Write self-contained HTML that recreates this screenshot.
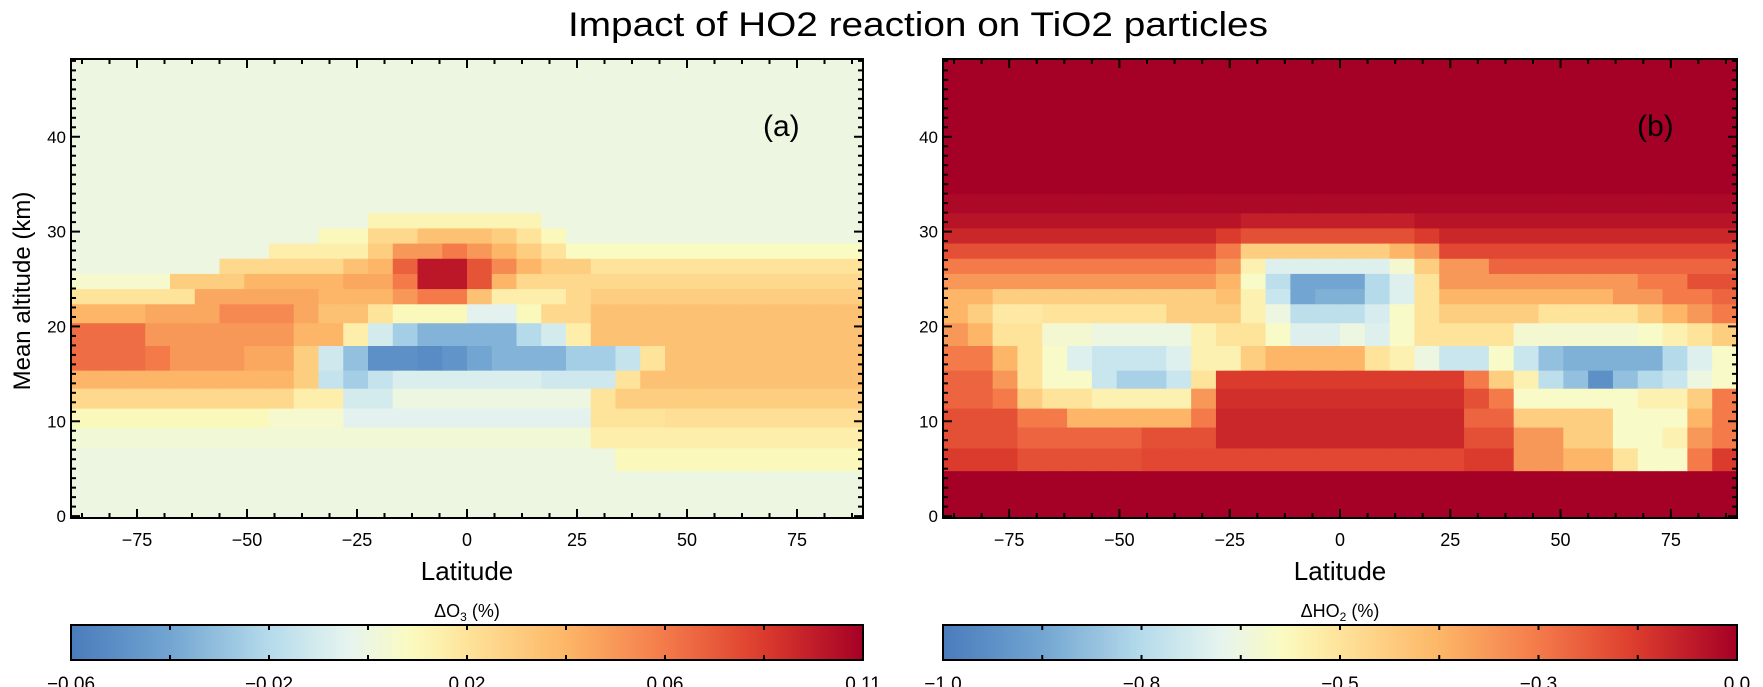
<!DOCTYPE html>
<html><head><meta charset="utf-8">
<style>
html,body{margin:0;padding:0;background:#fff;}
svg{display:block;font-family:"Liberation Sans",sans-serif;}
</style></head>
<body>
<svg id="fig" width="1763" height="687" viewBox="0 0 1763 687" xmlns="http://www.w3.org/2000/svg">
<text x="918" y="36" text-anchor="middle" font-size="34" textLength="700" lengthAdjust="spacingAndGlyphs">Impact of HO2 reaction on TiO2 particles</text>
<text transform="translate(30,291) rotate(-90)" text-anchor="middle" font-size="24">Mean altitude (km)</text>
<g id="panelA"></g>
<g id="panelB"></g>
</svg>
<script>
const altEdges = [0,4.8,7.2,9.4,11.4,13.5,15.4,18,20.4,22.4,24,25.6,27.2,28.8,30.4,32,34,36,38,40,42,44,46,48.2];
const latStart = -90, latStep = 5.625, nLat = 32;
const latTicks = [-75,-50,-25,0,25,50,75];
const altTicks = [0,10,20,30,40];
const cbTicksA = [-0.06,-0.02,0.02,0.06,0.11];
const cbLabelsA = ["-0.06","-0.02","0.02","0.06","0.11"];
const cbTicksB = [-1.0,-0.8,-0.5,-0.3,0.0];
const cbLabelsB = ["-1.0","-0.8","-0.5","-0.3","0.0"];

const dO3 = [
[0,0,0,0,0,0,0,0,0,0,0,0,0,0,0,0,0,0,0,0,0,0,0,0,0,0,0,0,0,0,0,0],
[0,0,0,0,0,0,0,0,0,0,0,0,0,0,0,0,0,0,0,0,0,0,0.01,0.01,0.01,0.01,0.01,0.01,0.01,0.01,0.01,0.01],
[0.003,0.003,0.003,0.003,0.003,0.003,0.003,0.003,0.003,0.003,0.003,0.003,0.003,0.003,0.003,0.003,0.003,0.003,0.003,0.003,0.003,0.015,0.015,0.015,0.015,0.015,0.015,0.015,0.015,0.015,0.015,0.015],
[0.01,0.01,0.01,0.01,0.01,0.01,0.01,0.01,0.005,0.005,0.005,-0.005,-0.005,-0.005,-0.005,-0.005,-0.005,-0.005,-0.005,-0.005,-0.005,0.02,0.02,0.02,0.022,0.022,0.022,0.022,0.022,0.022,0.022,0.022],
[0.025,0.025,0.025,0.025,0.025,0.025,0.025,0.025,0.025,0.015,0.015,-0.01,-0.01,0,0,0,0,0,0,0,0,0.02,0.03,0.03,0.03,0.03,0.03,0.03,0.03,0.03,0.03,0.03],
[0.04,0.04,0.04,0.04,0.04,0.04,0.04,0.04,0.04,0.03,-0.015,-0.025,-0.015,-0.008,-0.008,-0.008,-0.008,-0.008,-0.008,-0.012,-0.012,-0.012,0.02,0.035,0.035,0.035,0.035,0.035,0.035,0.035,0.035,0.035],
[0.065,0.065,0.065,0.06,0.05,0.05,0.05,0.045,0.045,0.03,-0.012,-0.03,-0.05,-0.05,-0.052,-0.048,-0.04,-0.035,-0.035,-0.035,-0.025,-0.025,-0.015,0.02,0.035,0.035,0.035,0.035,0.035,0.035,0.035,0.035],
[0.065,0.065,0.065,0.05,0.05,0.05,0.05,0.05,0.05,0.04,0.04,0.015,-0.01,-0.025,-0.035,-0.035,-0.035,-0.035,-0.02,-0.01,0.015,0.035,0.035,0.035,0.035,0.035,0.035,0.035,0.035,0.035,0.035,0.035],
[0.04,0.04,0.04,0.045,0.045,0.045,0.055,0.055,0.055,0.045,0.035,0.035,0.02,0.01,0.01,0.01,-0.005,-0.005,0.01,0.025,0.025,0.035,0.035,0.035,0.035,0.035,0.035,0.035,0.035,0.035,0.035,0.035],
[0.02,0.02,0.02,0.02,0.02,0.045,0.045,0.045,0.045,0.045,0.04,0.04,0.04,0.05,0.06,0.06,0.035,0.015,0.015,0.015,0.025,0.03,0.03,0.03,0.03,0.03,0.03,0.03,0.03,0.03,0.03,0.03],
[0.005,0.005,0.005,0.005,0.03,0.03,0.03,0.04,0.04,0.04,0.04,0.045,0.045,0.06,0.1,0.1,0.075,0.04,0.025,0.025,0.025,0.025,0.025,0.025,0.025,0.025,0.025,0.025,0.025,0.025,0.025,0.025],
[0,0,0,0,0,0,0.025,0.025,0.025,0.025,0.025,0.035,0.04,0.07,0.1,0.1,0.075,0.055,0.04,0.03,0.03,0.02,0.02,0.02,0.02,0.02,0.02,0.02,0.02,0.02,0.02,0.02],
[0,0,0,0,0,0,0,0,0.015,0.015,0.015,0.015,0.03,0.05,0.05,0.06,0.05,0.04,0.03,0.02,0.008,0.008,0.008,0.008,0.008,0.008,0.008,0.008,0.008,0.008,0.008,0.008],
[0,0,0,0,0,0,0,0,0,0,0.01,0.01,0.025,0.025,0.035,0.035,0.035,0.03,0.02,0.01,0,0,0,0,0,0,0,0,0,0,0,0],
[0,0,0,0,0,0,0,0,0,0,0,0,0.012,0.012,0.012,0.012,0.012,0.012,0.012,0,0,0,0,0,0,0,0,0,0,0,0,0]
];
const dHO2 = [
[0,0,0,0,0,0,0,0,0,0,0,0,0,0,0,0,0,0,0,0,0,0,0,0,0,0,0,0,0,0,0,0],
[-0.15,-0.15,-0.15,-0.2,-0.2,-0.2,-0.2,-0.2,-0.18,-0.18,-0.18,-0.18,-0.18,-0.18,-0.18,-0.18,-0.18,-0.18,-0.18,-0.18,-0.18,-0.15,-0.15,-0.35,-0.35,-0.4,-0.4,-0.5,-0.6,-0.6,-0.3,-0.15],
[-0.2,-0.2,-0.2,-0.25,-0.25,-0.25,-0.25,-0.25,-0.2,-0.2,-0.2,-0.1,-0.1,-0.1,-0.1,-0.1,-0.1,-0.1,-0.1,-0.1,-0.1,-0.2,-0.2,-0.35,-0.35,-0.45,-0.45,-0.6,-0.6,-0.55,-0.35,-0.3],
[-0.2,-0.2,-0.2,-0.3,-0.3,-0.4,-0.4,-0.4,-0.4,-0.4,-0.3,-0.1,-0.1,-0.1,-0.1,-0.1,-0.1,-0.1,-0.1,-0.1,-0.1,-0.25,-0.25,-0.45,-0.45,-0.45,-0.45,-0.6,-0.6,-0.6,-0.4,-0.3],
[-0.25,-0.25,-0.3,-0.45,-0.5,-0.5,-0.55,-0.55,-0.55,-0.55,-0.35,-0.12,-0.12,-0.12,-0.12,-0.12,-0.12,-0.12,-0.12,-0.12,-0.12,-0.2,-0.3,-0.6,-0.6,-0.6,-0.6,-0.6,-0.55,-0.55,-0.45,-0.3],
[-0.25,-0.25,-0.35,-0.5,-0.6,-0.6,-0.75,-0.82,-0.82,-0.75,-0.5,-0.15,-0.15,-0.15,-0.15,-0.15,-0.15,-0.15,-0.15,-0.15,-0.15,-0.3,-0.45,-0.55,-0.78,-0.85,-0.95,-0.85,-0.8,-0.75,-0.65,-0.6],
[-0.3,-0.3,-0.4,-0.5,-0.6,-0.7,-0.75,-0.75,-0.75,-0.7,-0.55,-0.55,-0.45,-0.4,-0.4,-0.4,-0.4,-0.5,-0.55,-0.65,-0.75,-0.75,-0.6,-0.75,-0.85,-0.88,-0.88,-0.88,-0.88,-0.8,-0.7,-0.6],
[-0.35,-0.4,-0.5,-0.5,-0.62,-0.62,-0.65,-0.65,-0.65,-0.65,-0.55,-0.5,-0.5,-0.6,-0.7,-0.7,-0.65,-0.7,-0.6,-0.5,-0.5,-0.5,-0.5,-0.62,-0.62,-0.62,-0.62,-0.62,-0.6,-0.55,-0.5,-0.45],
[-0.4,-0.45,-0.52,-0.52,-0.5,-0.5,-0.5,-0.5,-0.5,-0.45,-0.45,-0.45,-0.55,-0.65,-0.78,-0.78,-0.78,-0.72,-0.6,-0.5,-0.45,-0.45,-0.45,-0.45,-0.5,-0.5,-0.5,-0.5,-0.45,-0.4,-0.35,-0.3],
[-0.4,-0.4,-0.45,-0.45,-0.45,-0.45,-0.45,-0.45,-0.45,-0.45,-0.45,-0.42,-0.55,-0.75,-0.9,-0.88,-0.88,-0.8,-0.7,-0.5,-0.4,-0.4,-0.4,-0.4,-0.4,-0.4,-0.4,-0.35,-0.35,-0.3,-0.3,-0.25],
[-0.35,-0.35,-0.35,-0.35,-0.35,-0.35,-0.35,-0.35,-0.35,-0.35,-0.35,-0.4,-0.6,-0.78,-0.9,-0.9,-0.9,-0.8,-0.7,-0.5,-0.35,-0.35,-0.35,-0.35,-0.35,-0.35,-0.35,-0.35,-0.3,-0.3,-0.2,-0.2],
[-0.3,-0.3,-0.3,-0.3,-0.3,-0.3,-0.3,-0.3,-0.3,-0.3,-0.3,-0.35,-0.55,-0.7,-0.7,-0.7,-0.7,-0.7,-0.62,-0.45,-0.35,-0.35,-0.25,-0.25,-0.25,-0.25,-0.25,-0.25,-0.25,-0.25,-0.25,-0.25],
[-0.2,-0.2,-0.2,-0.2,-0.2,-0.2,-0.2,-0.2,-0.2,-0.2,-0.2,-0.3,-0.45,-0.45,-0.45,-0.45,-0.45,-0.45,-0.4,-0.35,-0.18,-0.18,-0.18,-0.18,-0.18,-0.18,-0.18,-0.18,-0.18,-0.18,-0.18,-0.18],
[-0.1,-0.1,-0.1,-0.1,-0.1,-0.1,-0.1,-0.1,-0.1,-0.1,-0.1,-0.15,-0.2,-0.2,-0.2,-0.2,-0.2,-0.2,-0.2,-0.15,-0.1,-0.1,-0.1,-0.1,-0.1,-0.1,-0.1,-0.1,-0.1,-0.1,-0.1,-0.1],
[-0.05,-0.05,-0.05,-0.05,-0.05,-0.05,-0.05,-0.05,-0.05,-0.05,-0.05,-0.05,-0.08,-0.08,-0.08,-0.08,-0.08,-0.08,-0.08,-0.05,-0.05,-0.05,-0.05,-0.05,-0.05,-0.05,-0.05,-0.05,-0.05,-0.05,-0.05,-0.05],
[-0.02,-0.02,-0.02,-0.02,-0.02,-0.02,-0.02,-0.02,-0.02,-0.02,-0.02,-0.02,-0.02,-0.02,-0.02,-0.02,-0.02,-0.02,-0.02,-0.02,-0.02,-0.02,-0.02,-0.02,-0.02,-0.02,-0.02,-0.02,-0.02,-0.02,-0.02,-0.02]
];

const NS = "http://www.w3.org/2000/svg";
const cmap = [[0,[74,124,188]],[0.12,[111,163,208]],[0.25,[181,219,235]],[0.35,[230,244,239]],[0.43,[251,251,191]],[0.5,[254,227,154]],[0.62,[253,184,104]],[0.75,[244,122,74]],[0.87,[221,61,45]],[1,[165,0,38]]];
function colorAt(t){
  t=Math.max(0,Math.min(1,t));
  for(let i=1;i<cmap.length;i++){
    if(t<=cmap[i][0]){
      const a=cmap[i-1],b=cmap[i],f=(t-a[0])/(b[0]-a[0]);
      const c=a[1].map((v,k)=>Math.round(v+(b[1][k]-v)*f));
      return "rgb("+c.join(",")+")";
    }
  }
  return "rgb(165,0,38)";
}
function tOf(v,ticks){
  if(v<=ticks[0]) return 0;
  for(let i=1;i<ticks.length;i++){
    if(v<=ticks[i]) return (i-1+(v-ticks[i-1])/(ticks[i]-ticks[i-1]))/(ticks.length-1);
  }
  return 1;
}
function mk(tag,attrs,parent){
  const e=document.createElementNS(NS,tag);
  for(const k in attrs) e.setAttribute(k,attrs[k]);
  parent.appendChild(e); return e;
}

function drawPanel(g, x0, x1, data, fillVal, ticks, labels, cbTitleMain, cbTitleSub, letter){
  const yBot=518, yTop=59, altMax=48.2, altMin=-0.2;
  const xs=lat=>x0+(lat+90)/180*(x1-x0);
  const ys=alt=>yBot-(alt-altMin)/(altMax-altMin)*(yBot-yTop);
  for(let r=0;r<altEdges.length-1;r++){
    const row=data[r];
    for(let c=0;c<nLat;c++){
      const v=row?row[c]:fillVal;
      const la=latStart+c*latStep, lb=la+latStep;
      const yA=ys(altEdges[r+1]), yB=(r===0?yBot:ys(altEdges[r]));
      const rect=mk("rect",{x:xs(la).toFixed(2),y:yA.toFixed(2),width:(xs(lb)-xs(la)+0.6).toFixed(2),height:(yB-yA+0.6).toFixed(2),fill:colorAt(tOf(v,ticks))},g);
      
      
    }
  }
  const fr=mk("rect",{x:x0,y:yTop,width:x1-x0,height:yBot-yTop,fill:"none",stroke:"#000","stroke-width":2},g);
  
  
  for(let lat=-87.5;lat<90;lat+=6.25){
    const major=latTicks.includes(lat), L=major?9:5;
    mk("line",{x1:xs(lat),x2:xs(lat),y1:yBot,y2:yBot-L,stroke:"#000","stroke-width":2},g);
    mk("line",{x1:xs(lat),x2:xs(lat),y1:yTop,y2:yTop+L,stroke:"#000","stroke-width":2},g);
  }
  latTicks.forEach(lat=>{
    const t=mk("text",{x:xs(lat),y:546,"text-anchor":"middle","font-size":18},g);
    t.textContent=(lat<0?"\u2212":"")+Math.abs(lat);
    
    
  });
  for(let a=0;a<=48;a+=1){
    const major=a%10===0, L=major?9:5;
    mk("line",{x1:x0,x2:x0+L,y1:ys(a),y2:ys(a),stroke:"#000","stroke-width":2},g);
    mk("line",{x1:x1,x2:x1-L,y1:ys(a),y2:ys(a),stroke:"#000","stroke-width":2},g);
  }
  altTicks.forEach(a=>{
    const t=mk("text",{x:x0-5,y:ys(a)+6,"text-anchor":"end","font-size":17},g);
    t.textContent=a;
    
    
  });
  const xt=mk("text",{x:(x0+x1)/2,y:580,"text-anchor":"middle","font-size":26},g);
  xt.textContent="Latitude";
  
  
  const pl=mk("text",{x:x1-100,y:136,"font-size":30},g);
  pl.textContent=letter;
  
  
  const cbY=625, cbH=35;
  const grad=mk("linearGradient",{id:"grad"+letter.replace(/[()]/g,""),x1:0,x2:1,y1:0,y2:0},g);
  for(let i=0;i<=40;i++){ mk("stop",{offset:i/40,"stop-color":colorAt(i/40)},grad); }
  const cb=mk("rect",{x:x0,y:cbY,width:x1-x0,height:cbH,fill:"url(#"+grad.id+")",stroke:"#000","stroke-width":2},g);
  
  
  for(let k=0;k<=8;k++){
    const x=x0+k/8*(x1-x0);
    mk("line",{x1:x,x2:x,y1:cbY,y2:cbY+5,stroke:"#000","stroke-width":2},g);
    mk("line",{x1:x,x2:x,y1:cbY+cbH,y2:cbY+cbH-5,stroke:"#000","stroke-width":2},g);
  }
  labels.forEach((lab,i)=>{
    const t=mk("text",{x:x0+tOf(ticks[i],ticks)*(x1-x0),y:690,"text-anchor":"middle","font-size":19},g);
    t.textContent=lab.replace("-","\u2212");
    
    
  });
  const ct=mk("text",{x:(x0+x1)/2,y:617,"text-anchor":"middle","font-size":18},g);
  ct.textContent=cbTitleMain;
  const sub=mk("tspan",{"font-size":12,dy:4},ct); sub.textContent=cbTitleSub;
  const rest=mk("tspan",{dy:-4},ct); rest.textContent=" (%)";
  
  
}
drawPanel(document.getElementById("panelA"),71,863,dO3,0,cbTicksA,cbLabelsA,"\u0394O","3","(a)");
drawPanel(document.getElementById("panelB"),943,1737,dHO2,0,cbTicksB,cbLabelsB,"\u0394HO","2","(b)");
</script>
</body></html>
